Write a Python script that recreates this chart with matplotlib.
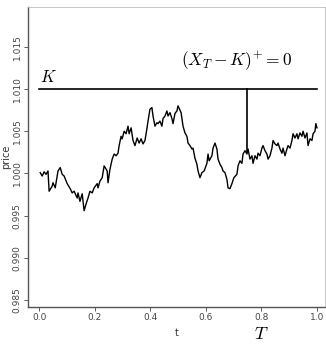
import numpy as np
from matplotlib import pyplot as plt

plt.rcParams["mathtext.fontset"] = "cm"

t = [0.004, 0.011, 0.018, 0.025, 0.032, 0.036, 0.047, 0.050, 0.058, 0.068,
     0.076, 0.083, 0.090, 0.101, 0.112, 0.119, 0.126, 0.137, 0.140, 0.147,
     0.155, 0.162, 0.169, 0.176, 0.183, 0.191, 0.198, 0.209, 0.212, 0.219,
     0.227, 0.234, 0.245,
     0.248, 0.255, 0.263, 0.270, 0.277, 0.284, 0.288, 0.295, 0.299, 0.306,
     0.313, 0.320, 0.324, 0.331, 0.338, 0.345, 0.353, 0.360, 0.367, 0.374,
     0.381, 0.388, 0.392, 0.399, 0.406, 0.410, 0.417, 0.424, 0.428, 0.435,
     0.442, 0.446, 0.453, 0.460, 0.464, 0.471, 0.478, 0.482, 0.489, 0.496,
     0.500,
     0.511, 0.518, 0.525, 0.532, 0.536, 0.543, 0.550, 0.554, 0.561, 0.568,
     0.572, 0.579, 0.586, 0.594, 0.604, 0.608, 0.612, 0.622, 0.626, 0.633,
     0.640, 0.644, 0.651, 0.658, 0.662, 0.669, 0.676, 0.680, 0.687, 0.694,
     0.701, 0.712, 0.716, 0.723, 0.730, 0.734, 0.741, 0.748, 0.752,
     0.759, 0.766, 0.770, 0.777, 0.784, 0.788, 0.795, 0.802, 0.806, 0.813,
     0.820, 0.824, 0.831, 0.838, 0.842, 0.849, 0.856, 0.860, 0.867, 0.874,
     0.878, 0.885, 0.892, 0.896, 0.903, 0.910, 0.914, 0.921, 0.928, 0.932,
     0.939, 0.946, 0.950, 0.957, 0.964, 0.968, 0.975, 0.982, 0.986, 0.993,
     0.996, 1.000]
price = [1.0001, 0.9997, 1.0002, 0.9999, 1.0003, 0.9979, 0.9985, 0.9989, 0.9983, 1.0003,
         1.0007, 0.9999, 0.9997, 0.9988, 0.9982, 0.9977, 0.9979, 0.9971, 0.9977, 0.9967,
         0.9976, 0.9956, 0.9964, 0.9971, 0.9979, 0.9977, 0.9983, 0.9988, 0.9983, 0.9991,
         0.9995, 1.0009, 1.0003,
         0.9989, 1.0005, 1.0017, 1.0023, 1.0021, 1.0024, 1.0033, 1.0044, 1.0041, 1.0050,
         1.0047, 1.0056, 1.0047, 1.0054, 1.0039, 1.0033, 1.0042, 1.0036, 1.0041, 1.0035,
         1.0039, 1.0053, 1.0062, 1.0076, 1.0078, 1.0068, 1.0056, 1.0060, 1.0059, 1.0062,
         1.0056, 1.0065, 1.0068, 1.0074, 1.0068, 1.0072, 1.0065, 1.0059, 1.0071, 1.0074,
         1.0080,
         1.0072, 1.0056, 1.0048, 1.0044, 1.0036, 1.0033, 1.0029, 1.0030, 1.0018, 1.0011,
         1.0003, 0.9995, 1.0001, 1.0003, 1.0012, 1.0023, 1.0015, 1.0021, 1.0030, 1.0036,
         1.0029, 1.0017, 1.0011, 1.0007, 1.0003, 1.0001, 0.9993, 0.9983, 0.9982, 0.9988,
         0.9995, 0.9999, 1.0009, 1.0015, 1.0012, 1.0023, 1.0027, 1.0023, 1.0029,
         1.0017, 1.0021, 1.0012, 1.0021, 1.0017, 1.0024, 1.0021, 1.0030, 1.0033, 1.0027,
         1.0023, 1.0017, 1.0021, 1.0030, 1.0039, 1.0035, 1.0033, 1.0036, 1.0029, 1.0024,
         1.0030, 1.0021, 1.0029, 1.0033, 1.0030, 1.0039, 1.0047, 1.0042, 1.0047, 1.0041,
         1.0048, 1.0044, 1.0050, 1.0042, 1.0048, 1.0033, 1.0041, 1.0039, 1.0047, 1.0050,
         1.0059, 1.0054]

K = 1.010
T = 0.75
xticks = [0.0, 0.2, 0.4, 0.6, 0.8, 1.0]
yticks = [0.985, 0.990, 0.995, 1.000, 1.005, 1.010, 1.015]


def main():
    fig = plt.figure(figsize=(3.26, 3.44), dpi=100)
    ax = fig.add_axes([28 / 326, 37 / 344, 297 / 326, 300 / 344])

    ax.plot(t, price, color="black", lw=1.0)
    ax.plot([0, 1], [K, K], color="black", lw=1.2)
    x_T = np.interp(T, t, price)
    ax.plot([T, T], [x_T, K], color="black", lw=1.2)

    ax.set_xlim(-0.04, 1.029)
    ax.set_ylim(0.9842, 1.0197)
    ax.set_xticks(xticks)
    ax.set_xticklabels([f"{v:.1f}" for v in xticks])
    ax.set_yticks(yticks)
    ax.set_yticklabels([f"{v:.3f}" for v in yticks], rotation=90, va="center")
    ax.tick_params(labelsize=6.5, length=3, width=0.6, colors="#444444", pad=1.5)

    for side in ["left", "bottom"]:
        ax.spines[side].set_color("#555555")
        ax.spines[side].set_linewidth(1.0)
    for side in ["top", "right"]:
        ax.spines[side].set_color("#bbbbbb")
        ax.spines[side].set_linewidth(0.6)

    ax.set_xlabel("t", fontsize=7, color="#333333", labelpad=4)
    ax.set_ylabel("price", fontsize=7, color="#333333", labelpad=1)

    ax.text(0.004, 1.0104, r"$K$", fontsize=12, ha="left", va="bottom")
    ax.text(0.71, 1.0133, r"$(X_T - K)^{+} = 0$", fontsize=12.5,
            ha="center", va="center")
    ax.text(0.8, -0.09, r"$T$", fontsize=13, ha="center", va="center",
            transform=ax.get_xaxis_transform())

    fig.savefig("out.png", dpi=100)


if __name__ == "__main__":
    main()
